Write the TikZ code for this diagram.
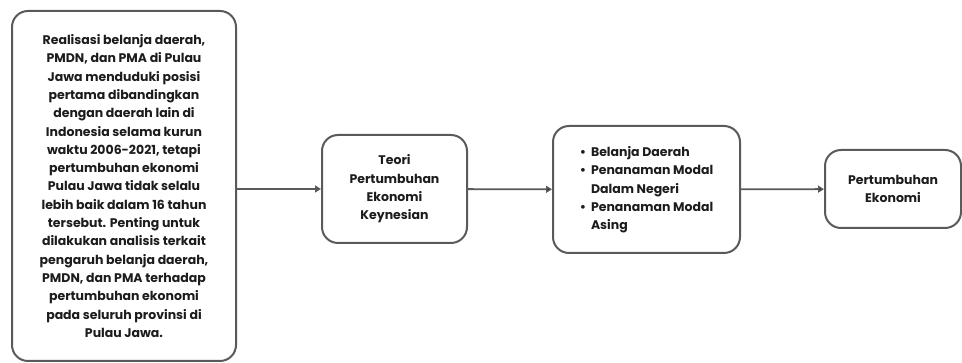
\documentclass[tikz,border=0pt]{standalone}
\usepackage{fontspec}
\setmainfont{Poppins}
\usetikzlibrary{positioning,calc,arrows.meta}
\definecolor{garis}{HTML}{5A5A5A}
\definecolor{teks}{HTML}{1C1C1C}
\tikzset{
	%gaya kotak
	kotak/.style = {rectangle, rounded corners=16pt, draw=garis, line width=2pt,
                           text=teks, font=\fontsize{12.5}{18.3}\selectfont\bfseries,
                           align=center, inner sep=0pt},
	panah/.style = {-{Triangle[length=6pt,width=7pt]}, draw=garis, line width=1.8pt}
}

\begin{document}
\begin{tikzpicture}[x=1pt, y=1pt]
    	\useasboundingbox (0,0) rectangle (962,363);
    	%kotak
    	\node[kotak, minimum width=224pt, minimum height=350pt] (latar) at (124, 177)
    		{Realisasi belanja daerah,\\PMDN, dan PMA di Pulau\\Jawa menduduki posisi\\pertama dibandingkan\\dengan daerah lain di\\Indonesia selama kurun\\waktu 2006-2021, tetapi\\pertumbuhan ekonomi\\Pulau Jawa tidak selalu\\lebih baik dalam 16 tahun\\tersebut. Penting untuk\\dilakukan analisis terkait\\pengaruh belanja daerah,\\PMDN, dan PMA terhadap\\pertumbuhan ekonomi\\pada seluruh provinsi di\\Pulau Jawa.};
    	\node[kotak, minimum width=145pt, minimum height=108pt] (teori) at (394.5, 174)
    		{Teori\\Pertumbuhan\\Ekonomi\\Keynesian};
    	\node[kotak, minimum width=187pt, minimum height=127pt, align=left] (variabel) at (646.5, 173.5)
    		{\begin{tabular}{@{}l@{\hspace{5pt}}l@{}}
    			•&Belanja Daerah\\
    			•&Penanaman Modal\\
    			 &Dalam Negeri\\
    			•&Penanaman Modal\\
    			 &Asing
    		\end{tabular}};
    	\node[kotak, minimum width=136pt, minimum height=78pt] (hasil) at (893, 174)
    		{Pertumbuhan\\Ekonomi};
    	%panah
    	\draw[panah] (latar.east |- teori.west) -- (teori.west);
    	\draw[panah] (teori)    edge (variabel)
    			   (variabel) edge (hasil);
    \end{tikzpicture}
\end{document}
